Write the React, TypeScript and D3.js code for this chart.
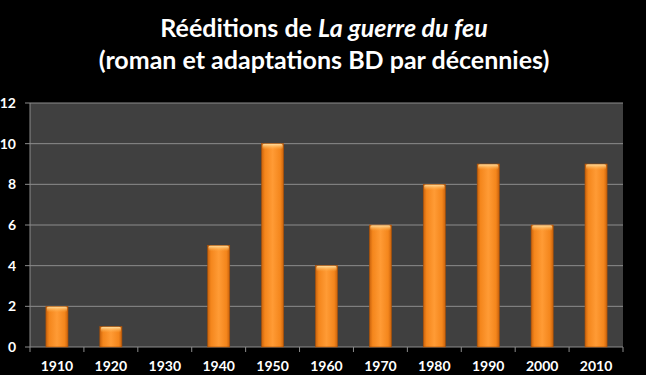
import React from "react";
import * as d3 from "d3";

const decades = ["1910", "1920", "1930", "1940", "1950", "1960", "1970", "1980", "1990", "2000", "2010"];
const counts = [2, 1, 0, 5, 10, 4, 6, 8, 9, 6, 9];
const yTicks = [0, 2, 4, 6, 8, 10, 12];

export default function App() {
  const W = 646, H = 375;
  const left = 30, right = 623, top = 103, bottom = 347;
  const x = d3.scaleBand<string>().domain(decades).range([left, right]).paddingInner(0.59).paddingOuter(0.295);
  const band = d3.scaleBand<string>().domain(decades).range([left, right]);
  const y = d3.scaleLinear().domain([0, 12]).range([bottom, top]);
  const font = "Lato, 'Open Sans', sans-serif";
  return (
    <svg width={W} height={H} style={{ position: "absolute", left: 0, top: 0, display: "block" }}>
      <defs>
        <linearGradient id="barH" x1="0" x2="1" y1="0" y2="0">
          <stop offset="0" stopColor="#c9620c" />
          <stop offset="0.15" stopColor="#f4861c" />
          <stop offset="0.5" stopColor="#ff9b35" />
          <stop offset="0.85" stopColor="#f4861c" />
          <stop offset="1" stopColor="#c9620c" />
        </linearGradient>
        <linearGradient id="barTop" x1="0" x2="0" y1="0" y2="1">
          <stop offset="0" stopColor="#ffe3a8" />
          <stop offset="1" stopColor="#ffb24d" stopOpacity="0" />
        </linearGradient>
      </defs>
      <rect x={0} y={0} width={W} height={H} fill="#000" />
      <text x={W / 2 + 1} y={37} textAnchor="middle" fill="#fff" fontFamily={font} fontWeight="bold" fontSize={25}>
        Rééditions de <tspan fontStyle="italic">La guerre du feu</tspan>
      </text>
      <text x={W / 2 + 1} y={69} textAnchor="middle" fill="#fff" fontFamily={font} fontWeight="bold" fontSize={25}>
        (roman et adaptations BD par décennies)
      </text>
      <rect x={left} y={top} width={right - left} height={bottom - top} fill="#404040" />
      {yTicks.map((t) => (
        <g key={t}>
          <line x1={left} x2={right} y1={y(t)} y2={y(t)} stroke="#8c8c8c" strokeWidth={1} />
          <line x1={left - 5} x2={left} y1={y(t)} y2={y(t)} stroke="#8c8c8c" strokeWidth={1} />
          <text x={16} y={y(t) + 5} textAnchor="end" fill="#fff" fontFamily={font} fontWeight="bold" fontSize={14}>
            {t}
          </text>
        </g>
      ))}
      <line x1={left} x2={left} y1={top} y2={bottom} stroke="#8c8c8c" />
      {decades.map((d) => (
        <line key={"t" + d} x1={band(d)!} x2={band(d)!} y1={bottom} y2={bottom + 5} stroke="#8c8c8c" />
      ))}
      <line x1={right} x2={right} y1={bottom} y2={bottom + 5} stroke="#8c8c8c" />
      {decades.map((d, i) => {
        const v = counts[i];
        if (v <= 0) return null;
        const bx = x(d)!, bw = x.bandwidth(), by = y(v), bh = bottom - y(v);
        return (
          <g key={d}>
            <rect x={bx} y={by} width={bw} height={bh} fill="url(#barH)" />
            <rect x={bx + 1} y={by} width={bw - 2} height={Math.min(6, bh)} fill="url(#barTop)" rx={2} />
            <rect x={bx} y={by} width={bw} height={bh} fill="none" stroke="#a85008" strokeWidth={0.6} />
          </g>
        );
      })}
      {decades.map((d) => (
        <text key={"l" + d} x={band(d)! + band.bandwidth() / 2} y={371} textAnchor="middle" fill="#fff" fontFamily={font} fontWeight="bold" fontSize={14}>
          {d}
        </text>
      ))}
    </svg>
  );
}
